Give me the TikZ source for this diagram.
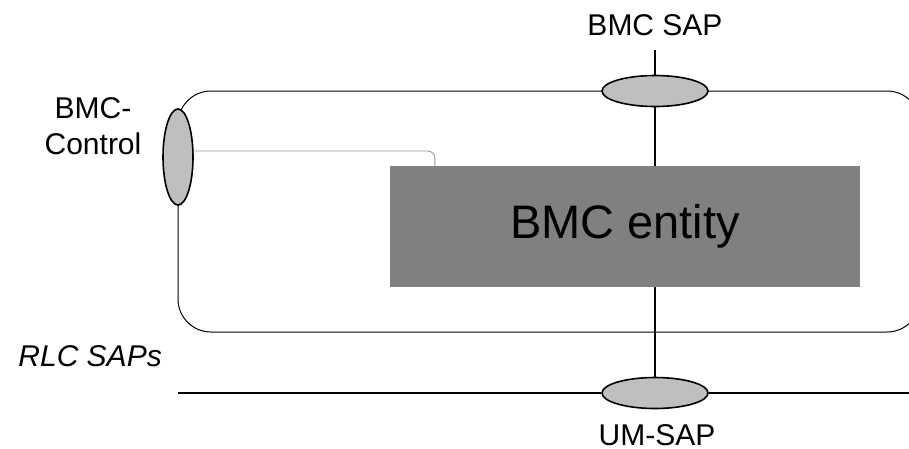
\documentclass[tikz,border=0pt]{standalone}
\usepackage{fontspec}
\setmainfont{Liberation Sans}
\usetikzlibrary{shapes.geometric}

\begin{document}
\begin{tikzpicture}
  [x=1pt,y=-1pt,
   sap/.style={ellipse,draw,line width=1.6pt,fill=black!25,inner sep=0pt},
   lbl/.style={inner sep=0pt,font=\fontsize{30}{36}\selectfont},
   wire/.style={line width=1.3pt},
   ctrlline/.style={draw=black!40,line width=0.9pt,rounded corners=7pt}]
  \useasboundingbox (0,0) rectangle (909,448);

  % the BMC box, its right side runs off the page
  \draw[line width=1pt,rounded corners=33pt] (178,91) rectangle (920,332);

  \node[sap,minimum width=106pt,minimum height=31pt] (bmcsap) at (655,91)  {};
  \node[sap,minimum width=106pt,minimum height=31pt] (umsap)  at (655,393) {};
  \node[sap,minimum width=30pt,minimum height=96pt]  (ctrl)   at (178,157) {};
  \node[rectangle,fill=black!50,minimum width=470pt,minimum height=121pt,
        inner sep=0pt,font=\fontsize{47}{56}\selectfont] (entity) at (625,226.5) {BMC entity};

  \coordinate (saptop) at (655,50);
  \coordinate (rlcl) at (178,393);
  \coordinate (rlcr) at (909,393);

  \node[lbl,anchor=base] (bmcsaplbl) at (655,35) {BMC SAP};
  \node[lbl,anchor=base] (umsaplbl)  at (657,445) {UM-SAP};
  \node[lbl,anchor=north,align=center] (ctrllbl) at (93,97) {BMC-\\Control};
  \node[lbl,anchor=base east,font=\fontsize{30}{36}\selectfont\itshape] (rlclbl) at (162,366) {RLC SAPs};

  \draw[wire] (saptop) -- (bmcsap.north);
  \draw[wire] (bmcsap.south) -- (entity.north -| bmcsap);
  \draw[wire] (entity.south -| umsap) -- (umsap.north);
  \draw[line width=1.6pt] (rlcl) -- (umsap.west);
  \draw[line width=1.6pt] (umsap.east) -- (rlcr);
  \draw[ctrlline] (ctrl.east |- 0,151) -| ([xshift=45pt]entity.north west);
\end{tikzpicture}
\end{document}
